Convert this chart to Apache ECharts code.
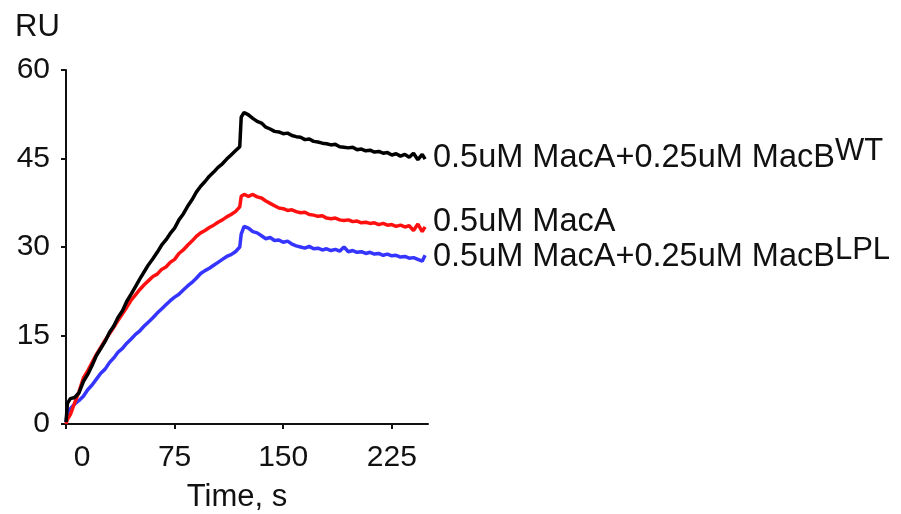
<!DOCTYPE html>
<html>
<head>
<meta charset="utf-8">
<script src="https://cdn.jsdelivr.net/npm/echarts@6/dist/echarts.min.js"></script>
<style>
  html, body { margin: 0; padding: 0; background: #fff; }
  #chart { width: 901px; height: 514px; }
</style>
</head>
<body>
<div id="chart"></div>
<script>
// Sensorgram sampling times (s)
const times = [0, 1, 3, 6, 9, 12, 15, 18, 21, 24, 27, 30, 33, 36, 39, 42, 45, 48, 51, 54, 57,
  60, 63, 66, 69, 72, 75, 78, 81, 84, 87, 90, 93, 96, 99, 102, 105, 108, 111, 114, 117,
  120, 121, 123, 126, 129, 132, 135, 138, 141, 144, 147, 150, 153, 156, 159, 162, 165, 168,
  171, 174, 177, 180, 183, 186, 189, 192, 195, 198, 201, 204, 207, 210, 213, 216, 219, 222,
  225, 228, 231, 234, 237, 240, 243, 246, 248];

// Response (RU): 0.5uM MacA + 0.25uM MacB (WT)
const macAB_WT = [0.3, 3.5, 4.3, 4.5, 5.3, 7.2, 8.4, 9.9, 11.6, 12.8, 14.0, 15.5, 16.6, 18.1, 19.2,
  20.8, 22.0, 23.3, 24.6, 25.8, 27.0, 28.0, 29.1, 30.3, 31.2, 32.3, 33.2, 34.6, 35.6, 36.9,
  38.0, 39.3, 40.3, 41.1, 42.0, 42.7, 43.5, 44.1, 44.9, 45.6, 46.3, 47.0, 52.0, 52.8, 52.4,
  51.8, 51.3, 51.0, 50.3, 50.0, 49.6, 49.5, 49.2, 49.3, 48.9, 48.7, 48.6, 48.2, 48.3, 47.9,
  47.8, 47.6, 47.5, 47.3, 47.4, 47.0, 46.9, 46.8, 46.9, 46.5, 46.6, 46.3, 46.4, 46.1, 46.2,
  45.9, 46.0, 45.6, 45.8, 45.4, 45.7, 45.2, 45.9, 44.8, 45.7, 44.9];

// Response (RU): 0.5uM MacA alone
const macA = [0.0, 0.8, 1.6, 3.6, 5.5, 7.8, 9.0, 10.4, 11.8, 13.0, 14.2, 15.3, 16.4, 17.6, 18.7,
  19.8, 21.0, 21.9, 22.8, 23.6, 24.3, 25.0, 25.4, 26.2, 26.6, 27.4, 27.9, 28.9, 29.5, 30.3,
  31.0, 31.8, 32.4, 32.8, 33.3, 33.7, 34.2, 34.6, 35.1, 35.5, 36.0, 36.8, 38.6, 38.9, 38.6,
  38.9, 38.5, 38.3, 37.8, 37.4, 37.0, 36.6, 36.5, 36.2, 36.3, 36.0, 35.8, 35.9, 35.5, 35.4,
  35.2, 35.3, 34.9, 34.8, 34.9, 34.6, 34.5, 34.6, 34.3, 34.4, 34.1, 34.2, 34.0, 34.1, 33.8,
  34.0, 33.7, 33.8, 33.5, 33.7, 33.4, 33.6, 32.8, 33.9, 32.6, 33.4];

// Response (RU): 0.5uM MacA + 0.25uM MacB (LPL)
const macAB_LPL = [0.3, 2.0, 2.6, 3.4, 4.0, 4.7, 5.8, 6.6, 7.6, 8.6, 9.3, 10.4, 11.2, 12.2, 12.8,
  13.7, 14.4, 15.2, 15.8, 16.6, 17.3, 18.0, 18.8, 19.5, 20.2, 20.9, 21.5, 22.0, 22.7, 23.4,
  24.0, 24.7, 25.5, 26.0, 26.4, 26.9, 27.4, 27.9, 28.4, 28.7, 29.2, 30.0, 32.2, 33.5, 33.2,
  32.6, 32.4, 31.9, 31.4, 31.6, 31.1, 31.2, 30.8, 31.0, 30.5, 30.2, 30.0, 29.8, 30.1, 29.7,
  29.8, 29.5, 29.7, 29.4, 29.6, 29.3, 30.0, 29.2, 29.4, 29.1, 29.2, 28.9, 29.1, 28.8, 28.9,
  28.6, 28.8, 28.5, 28.6, 28.3, 28.4, 28.1, 28.2, 27.9, 27.6, 28.6];

const xTicks = [0, 75, 150, 225];
const yTicks = [0, 15, 30, 45, 60];

const FONT = '"Liberation Sans", Arial, Helvetica, sans-serif';
const pair = (vals) => times.map((t, i) => [t, vals[i]]);

const chart = echarts.init(document.getElementById('chart'), null, { renderer: 'canvas' });

const axisLineStyle = { color: '#111', width: 2 };

const option = {
  backgroundColor: '#ffffff',
  animation: false,
  textStyle: { fontFamily: FONT },
  grid: { left: 66, top: 70, width: 362, height: 354, containLabel: false, outerBoundsMode: 'none' },
  xAxis: {
    type: 'value',
    min: xTicks[0],
    max: 250,
    interval: xTicks[1] - xTicks[0],
    name: 'Time, s',
    nameLocation: 'middle',
    nameGap: 58,
    nameTextStyle: { fontFamily: FONT, fontSize: 31, color: '#111', padding: [0, 20, 0, 0] },
    axisLine: { show: true, onZero: false, lineStyle: axisLineStyle },
    axisTick: { show: true, length: 5, lineStyle: axisLineStyle },
    splitLine: { show: false },
    axisLabel: {
      fontFamily: FONT, fontSize: 30, color: '#111', margin: 19,
      showMaxLabel: false,
      formatter: (v) => (v === 0 ? '{z|0}' : String(v)),
      rich: { z: { fontFamily: FONT, fontSize: 30, color: '#111', padding: [0, 0, 0, 32] } }
    }
  },
  yAxis: {
    type: 'value',
    min: yTicks[0],
    max: yTicks[yTicks.length - 1],
    interval: yTicks[1] - yTicks[0],
    axisLine: { show: true, onZero: false, lineStyle: axisLineStyle },
    axisTick: { show: true, length: 5, lineStyle: axisLineStyle },
    splitLine: { show: false },
    axisLabel: { fontFamily: FONT, fontSize: 30, color: '#111', margin: 16 }
  },
  series: [
    {
      name: '0.5uM MacA+0.25uM MacB LPL',
      type: 'line', data: pair(macAB_LPL), showSymbol: false, smooth: false,
      lineStyle: { color: '#3535ff', width: 3.5 }, z: 2
    },
    {
      name: '0.5uM MacA',
      type: 'line', data: pair(macA), showSymbol: false, smooth: false,
      lineStyle: { color: '#ff1010', width: 3.5 }, z: 3
    },
    {
      name: '0.5uM MacA+0.25uM MacB WT',
      type: 'line', data: pair(macAB_WT), showSymbol: false, smooth: false,
      lineStyle: { color: '#000000', width: 3.5 }, z: 4
    }
  ],
  graphic: [
    {
      type: 'text', left: 15, top: 12,
      style: { text: 'RU', font: '31px ' + FONT, fill: '#111' }
    },
    {
      type: 'text', x: 433, y: 158,
      style: {
        text: '{m|0.5uM MacA+0.25uM MacB}{s|WT}',
        verticalAlign: 'middle',
        rich: {
          m: { fontFamily: FONT, fontSize: 32.5, fill: '#111' },
          s: { fontFamily: FONT, fontSize: 31, fill: '#111', padding: [0, 0, 14, 0] }
        }
      }
    },
    {
      type: 'text', x: 433, y: 222,
      style: {
        text: '{m|0.5uM MacA}',
        verticalAlign: 'middle',
        rich: { m: { fontFamily: FONT, fontSize: 32.5, fill: '#111' } }
      }
    },
    {
      type: 'text', x: 433, y: 257,
      style: {
        text: '{m|0.5uM MacA+0.25uM MacB}{s|LPL}',
        verticalAlign: 'middle',
        rich: {
          m: { fontFamily: FONT, fontSize: 32.5, fill: '#111' },
          s: { fontFamily: FONT, fontSize: 31, fill: '#111', padding: [0, 0, 13, 0] }
        }
      }
    }
  ]
};

chart.setOption(option);
</script>
</body>
</html>
